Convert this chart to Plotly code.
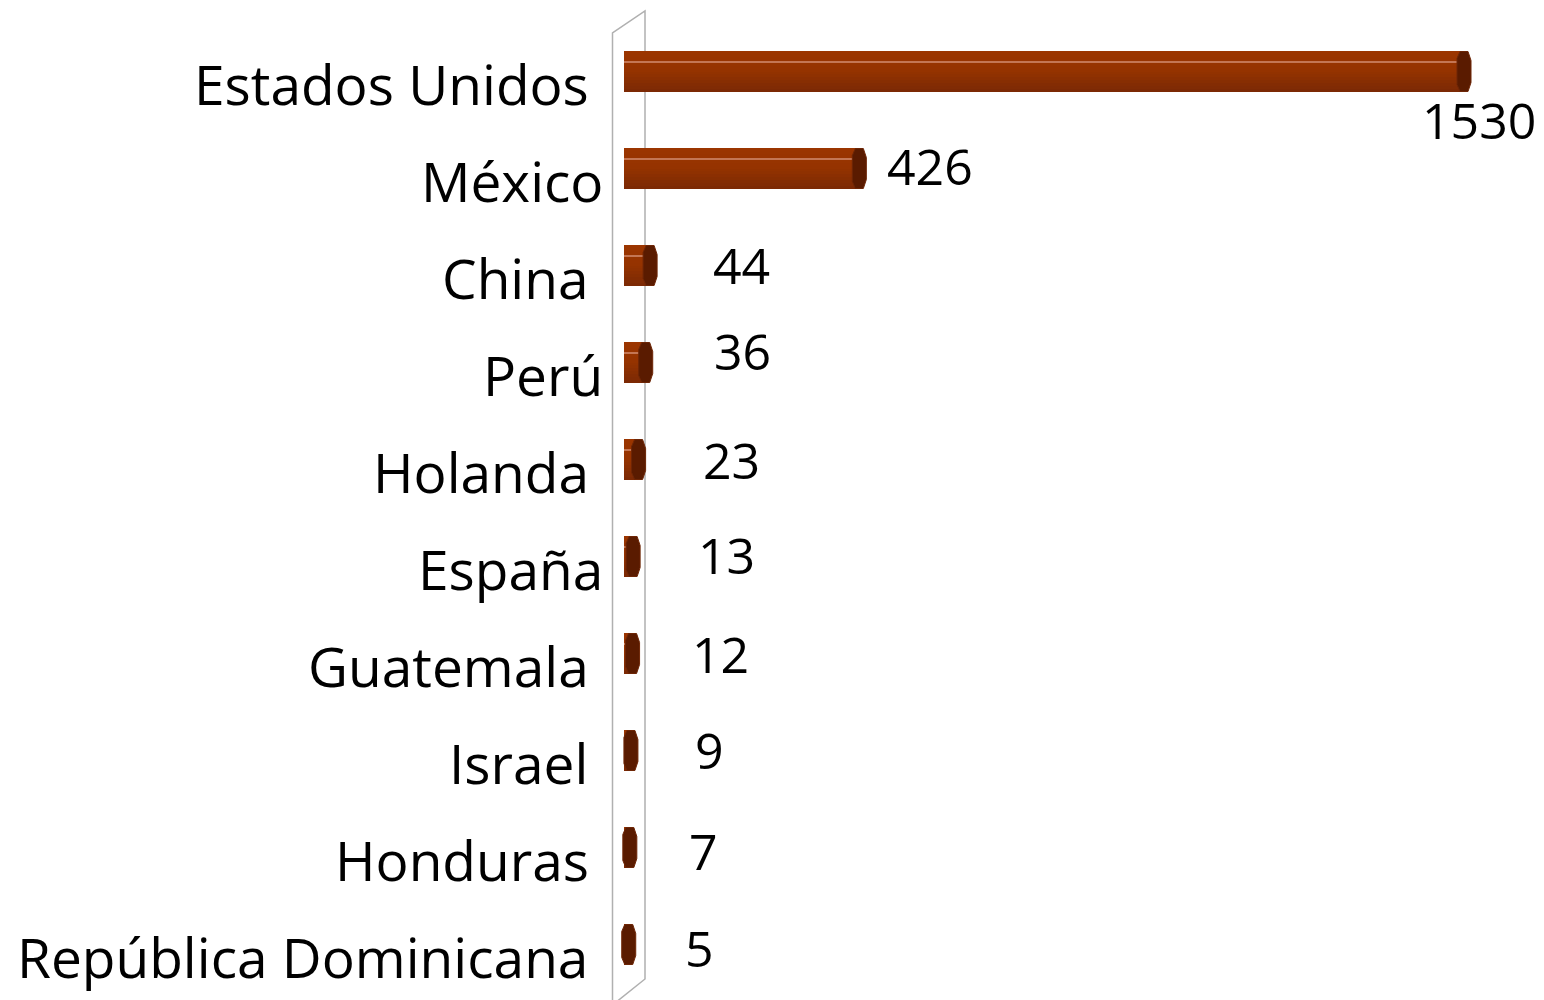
import plotly.graph_objects as go

# Data
countries = ["Estados Unidos", "México", "China", "Perú", "Holanda", "España",
             "Guatemala", "Israel", "Honduras", "República Dominicana"]
values = [1530, 426, 44, 36, 23, 13, 12, 9, 7, 5]
# labels that carry a trailing space in the source sheet
padded = [True, False, True, False, True, False, True, True, True, True]

# label placement relative to the bar end (pixels)
label_dx = [17, 73, 93, 99, 95, 95, 90, 81, 76, 73]
label_dy = [-48, 3, 1, 12, 0, 2, 0, 1, -3, -3]

rows = list(range(len(countries)))
NBSP = "\u00a0"
cat_text = [c + NBSP if p else c for c, p in zip(countries, padded)]

FONT = "Open Sans"
BAR_H = 0.415          # bar thickness in row units
N_BANDS = 14


def lerp(c1, c2, t):
    a = [int(c1[i:i + 2], 16) for i in (1, 3, 5)]
    b = [int(c2[i:i + 2], 16) for i in (1, 3, 5)]
    return "#" + "".join(f"{round(x + (y - x) * t):02x}" for x, y in zip(a, b))


def band_color(t):
    # top half stays bright, lower half darkens
    if t < 0.45:
        return lerp("#9b3500", "#953300", t / 0.45)
    return lerp("#953300", "#782805", (t - 0.45) / 0.55)


fig = go.Figure()

# shaded bar body drawn as stacked bands, each running to the bottom edge
for i in range(N_BANDS):
    t = i / N_BANDS
    off = -BAR_H / 2 + t * BAR_H
    fig.add_trace(go.Bar(
        y=rows, x=values, base=0, orientation="h",
        width=BAR_H - t * BAR_H, offset=off,
        marker=dict(color=band_color(t), line=dict(width=0)),
        hoverinfo="skip", showlegend=False,
    ))

# thin specular highlight near the top of each bar
fig.add_trace(go.Bar(
    y=rows, x=values, base=0, orientation="h",
    width=0.014, offset=-BAR_H / 2 + 0.24 * BAR_H,
    marker=dict(color="#c47654", line=dict(width=0)),
    hoverinfo="skip", showlegend=False,
))

shapes = []

# side wall of the 3-D plot area
shapes.append(dict(
    type="path", layer="below",
    xref="x", xsizemode="pixel", xanchor=0,
    yref="paper", ysizemode="pixel", yanchor=1,
    path="M -11.5,-982 L -11.5,-10 L 21,12 L 21,-956 Z",
    line=dict(color="#b0b0b0", width=1.5),
    fillcolor="rgba(255,255,255,0)",
))

# octagonal end caps
cap = "M -5,13 L -2,20 L 6,20 L 9,11 L 9,-11 L 6,-20 L -2,-20 L -5,-13 Z"
for r, v in zip(rows, values):
    shapes.append(dict(
        type="path", layer="above",
        xref="x", xsizemode="pixel", xanchor=v,
        yref="y", ysizemode="pixel", yanchor=r,
        path=cap,
        fillcolor="#5a1b00",
        line=dict(color="#6e2606", width=1),
    ))

annotations = []
# value labels
for r, v, dx, dy in zip(rows, values, label_dx, label_dy):
    annotations.append(dict(
        x=v, y=r, xref="x", yref="y", text=str(v), showarrow=False,
        xanchor="center", yanchor="middle", xshift=dx, yshift=dy,
        font=dict(family=FONT, size=50, color="#000000"),
    ))
# category labels, right-aligned just left of the wall
for r, t in zip(rows, cat_text):
    annotations.append(dict(
        x=0, y=r, xref="x", yref="y", text=t, showarrow=False,
        xanchor="right", yanchor="middle", xshift=-19, yshift=-12,
        font=dict(family=FONT, size=55, color="#000000"),
    ))

# pixel geometry: zero sits at 624 px, 1530 at 1462 px
SCALE = (1462 - 624) / 1530
LEFT = 606
x_min = -(624 - LEFT) / SCALE
x_max = x_min + (1544 - LEFT) / SCALE

fig.update_layout(
    width=1544, height=1000,
    margin=dict(l=LEFT, r=0, t=23, b=7),
    paper_bgcolor="white", plot_bgcolor="white",
    barmode="overlay", bargap=0,
    shapes=shapes, annotations=annotations,
    showlegend=False,
    xaxis=dict(range=[x_min, x_max], visible=False, fixedrange=True),
    yaxis=dict(range=[9.5, -0.5], visible=False, fixedrange=True),
)

fig.write_html("out.html", config={"displayModeBar": False})
